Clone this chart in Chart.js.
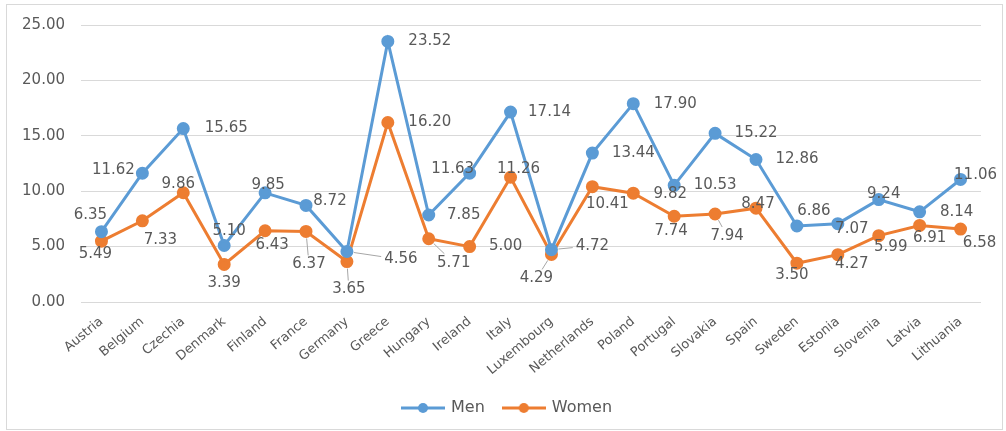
<!DOCTYPE html>
<html>
<head>
<meta charset="utf-8">
<script src="https://cdn.jsdelivr.net/npm/chart.js@4/dist/chart.umd.min.js"></script>
<style>
  html, body { margin: 0; padding: 0; background: #fff; }
  #wrap { position: relative; width: 1006px; height: 431px; }
</style>
</head>
<body>
<div id="wrap"><canvas id="myChart" width="1006" height="431"></canvas></div>
<script>
// datos del grafico
const categories = ["Austria", "Belgium", "Czechia", "Denmark", "Finland", "France", "Germany", "Greece",
    "Hungary", "Ireland", "Italy", "Luxembourg", "Netherlands", "Poland", "Portugal", "Slovakia",
    "Spain", "Sweden", "Estonia", "Slovenia", "Latvia", "Lithuania"];
const menValues = [6.35, 11.62, 15.65, 5.10, 9.85, 8.72, 4.56, 23.52, 7.85, 11.63, 17.14, 4.72,
    13.44, 17.90, 10.53, 15.22, 12.86, 6.86, 7.07, 9.24, 8.14, 11.06];
const womenValues = [5.49, 7.33, 9.86, 3.39, 6.43, 6.37, 3.65, 16.20, 5.71, 5.00, 11.26, 4.29,
    10.41, 9.82, 7.74, 7.94, 8.47, 3.50, 4.27, 5.99, 6.91, 6.58];
const yTickValues = [0, 5, 10, 15, 20, 25];

const menColor = '#5b9bd5';
const womenColor = '#ed7d31';
const textColor = '#595959';
const gridColor = '#d9d9d9';

// donde va cada etiqueta respecto al punto [dx, dy, linea guia]
const menLabelPos = [
    [-11, -17], [-29, -3], [43, 0], [5, -14], [3, -8], [24, -4], [54, 8, 1], [42, 0],
    [35, 0], [-17, -4], [39, 0], [41, -4, 1], [41, 0], [42, 0], [41, 0], [41, 0],
    [41, 0], [17, -15], [14, 5], [5, -6], [37, 0], [15, -4]
];
const womenLabelPos = [
    [-6, 13], [18, 19], [-5, -9], [0, 19], [7, 14], [3, 33, 1], [2, 28, 1], [42, 0],
    [25, 24, 1], [36, 0], [8, -8], [-15, 24, 1], [15, 17], [37, 1], [-3, 15], [12, 22, 1],
    [2, -4], [-5, 12], [14, 9], [12, 11], [10, 13], [19, 14]
];

// Etiquetas de datos estilo Excel
const dataLabels = {
    id: 'dataLabels',
    afterDatasetsDraw(chart) {
        const ctx = chart.ctx;
        const allPos = [menLabelPos, womenLabelPos];
        ctx.save();
        ctx.font = '15px "DejaVu Sans"';
        ctx.textAlign = 'center';
        ctx.textBaseline = 'middle';
        chart.data.datasets.forEach((ds, di) => {
            const meta = chart.getDatasetMeta(di);
            meta.data.forEach((pt, i) => {
                const txt = ds.data[i].toFixed(2);
                const [dx, dy, leader] = allPos[di][i];
                const cx = pt.x + dx, cy = pt.y + dy;
                if (leader) {
                    const hw = ctx.measureText(txt).width / 2 + 3, hh = 9;
                    const len = Math.hypot(dx, dy);
                    const s = Math.min(dx ? hw / Math.abs(dx) : 1e9, dy ? hh / Math.abs(dy) : 1e9);
                    const ex = cx - dx * s, ey = cy - dy * s;
                    const sx = pt.x + dx / len * 7, sy = pt.y + dy / len * 7;
                    if (Math.hypot(ex - sx, ey - sy) > 4) {
                        ctx.strokeStyle = '#a6a6a6';
                        ctx.lineWidth = 1;
                        ctx.beginPath();
                        ctx.moveTo(sx, sy);
                        ctx.lineTo(ex, ey);
                        ctx.stroke();
                    }
                }
                ctx.fillStyle = textColor;
                ctx.fillText(txt, cx, cy);
            });
        });
        ctx.restore();
    }
};

// marco gris alrededor
const frame = {
    id: 'frame',
    afterDraw(chart) {
        const ctx = chart.ctx;
        ctx.save();
        ctx.strokeStyle = gridColor;
        ctx.lineWidth = 1;
        ctx.strokeRect(6.5, 4.5, 996, 425);
        ctx.restore();
    }
};

// mover la leyenda un poco a la derecha (centrada en todo el marco)
const legendShift = {
    id: 'legendShift',
    afterLayout(chart) {
        chart.legend.left += 17;
        chart.legend.right += 17;
    }
};

// icono de leyenda: linea con punto
let legendIcon = function(color) {
    const c = document.createElement('canvas');
    c.width = 44; c.height = 12;
    const g = c.getContext('2d');
    g.strokeStyle = color; g.lineWidth = 3;
    g.beginPath(); g.moveTo(0, 6); g.lineTo(44, 6); g.stroke();
    g.fillStyle = color;
    g.beginPath(); g.arc(22, 6, 5, 0, Math.PI * 2); g.fill();
    return c;
};
const legendIcons = [legendIcon(menColor), legendIcon(womenColor)];

let ctx = document.getElementById('myChart').getContext('2d');
let chart = new Chart(ctx, {
    type: 'line',
    data: {
        labels: categories,
        datasets: [{
            label: 'Men',
            data: menValues,
            borderColor: menColor,
            backgroundColor: menColor,
            borderWidth: 3,
            pointRadius: 5,
            pointHoverRadius: 5,
            tension: 0
        }, {
            label: 'Women',
            data: womenValues,
            borderColor: womenColor,
            backgroundColor: womenColor,
            borderWidth: 3,
            pointRadius: 5,
            pointHoverRadius: 5,
            tension: 0
        }]
    },
    options: {
        responsive: false,
        animation: false,
        devicePixelRatio: 1,
        layout: { padding: { top: 22, right: 25, left: 0, bottom: 5 } },
        plugins: {
            tooltip: { enabled: false },
            legend: {
                position: 'bottom',
                labels: {
                    usePointStyle: true,
                    pointStyleWidth: 40,
                    color: textColor,
                    font: { family: 'DejaVu Sans', size: 16 },
                    padding: 19,
                    generateLabels: function(chart) {
                        const items = Chart.defaults.plugins.legend.labels.generateLabels(chart);
                        items.forEach((it, i) => { it.pointStyle = legendIcons[i]; });
                        return items;
                    }
                }
            }
        },
        scales: {
            x: {
                offset: true,
                grid: { display: false },
                border: { display: false },
                ticks: {
                    color: textColor,
                    font: { family: 'DejaVu Sans', size: 13 },
                    minRotation: 40,
                    maxRotation: 40,
                    padding: 4,
                    autoSkip: false
                },
                afterFit: function(scale) { scale.height = 79; }
            },
            y: {
                min: 0,
                max: 25,
                afterBuildTicks: function(scale) {
                    scale.ticks = yTickValues.map(v => ({ value: v }));
                },
                grid: { color: gridColor, drawTicks: false },
                border: { display: false },
                ticks: {
                    color: textColor,
                    font: { family: 'DejaVu Sans', size: 15 },
                    padding: 16,
                    callback: v => Number(v).toFixed(2)
                },
                afterFit: function(scale) { scale.width = 81; }
            }
        }
    },
    plugins: [dataLabels, frame, legendShift]
});
</script>
</body>
</html>
